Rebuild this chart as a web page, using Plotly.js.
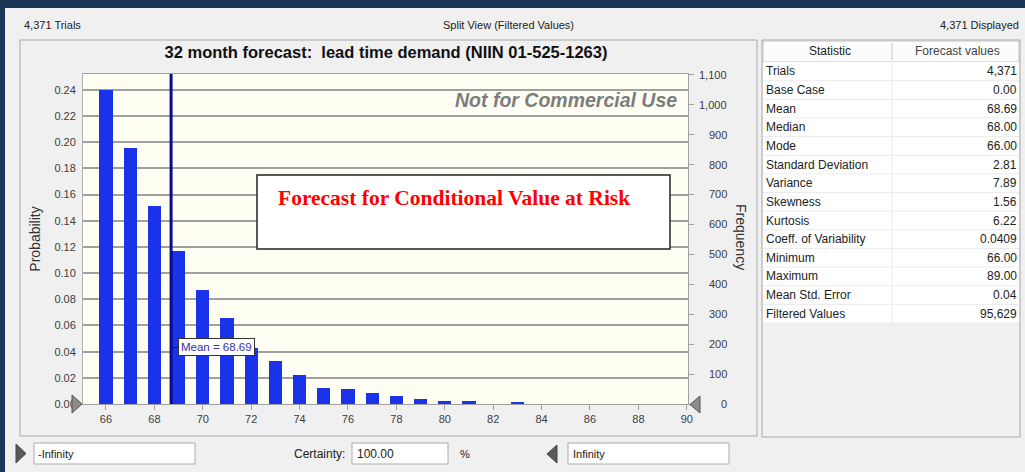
<!DOCTYPE html>
<html><head><meta charset="utf-8">
<script src="https://cdn.plot.ly/plotly-3.0.1.min.js"></script>
<style>html,body{margin:0;padding:0;background:#f0f0f0;overflow:hidden}#chart{width:1025px;height:472px}</style>
</head><body><div id="chart"></div>
<script>
// ---------- data ----------
const trials = 4371;
const demandBins = [66, 67, 68, 69, 70, 71, 72, 73, 74, 75, 76, 77, 78, 79, 80, 81, 82, 83];
const probability = [0.2400, 0.1957, 0.1514, 0.1172, 0.0872, 0.0655, 0.0428, 0.0329, 0.0222, 0.0120, 0.0112, 0.0087, 0.0064, 0.0036, 0.0021, 0.0021, 0.0000, 0.0010];
const meanValue = 68.69;
const meanLabel = 'Mean = 68.69';
const chartTitle = '32 month forecast:\u00a0 lead time demand (NIIN 01-525-1263)';
const frequencyTicks = [0, 100, 200, 300, 400, 500, 600, 700, 800, 900, 1000, 1100];
const tableHeaders = ['Statistic', 'Forecast values'];
const statNames = ['Trials', 'Base Case', 'Mean', 'Median', 'Mode', 'Standard Deviation', 'Variance', 'Skewness', 'Kurtosis', 'Coeff. of Variability', 'Minimum', 'Maximum', 'Mean Std. Error', 'Filtered Values'];
const statValues = ['4,371', '0.00', '68.69', '68.00', '66.00', '2.81', '7.89', '1.56', '6.22', '0.0409', '66.00', '89.00', '0.04', '95,629'];
const headerTexts = ['4,371 Trials', 'Split View (Filtered Values)', '4,371 Displayed'];
const lowerBound = '-Infinity', upperBound = 'Infinity', certainty = '100.00';

// ---------- layout helpers ----------
const W = 1025, H = 472;
const px = x => x / W, py = y => 1 - y / H;
const FONT = 'Liberation Sans, Arial, sans-serif';
const probabilityRange = [0, 0.2522];
const frequencyRange = probabilityRange.map(v => v * trials);
const demandRange = [65.05, 90.05];
const frequency = probability.map(p => p * trials);

const traces = [
  {type: 'bar', x: demandBins, y: probability, width: 0.54,
   marker: {color: '#1b32eb', line: {width: 0}}, hoverinfo: 'x+y'},
  {type: 'scatter', mode: 'markers', x: demandBins, y: frequency, yaxis: 'y2',
   marker: {opacity: 0}, hoverinfo: 'skip'}
];

const shapes = [];
const annotations = [];
function rect(x0, y0, x1, y1, fill, line, lw, layer) {
  shapes.push({type: 'rect', xref: 'paper', yref: 'paper', x0: px(x0), x1: px(x1), y0: py(y1), y1: py(y0),
    fillcolor: fill || 'rgba(0,0,0,0)', line: {color: line || 'rgba(0,0,0,0)', width: lw || 0}, layer: layer || 'below'});
}
function seg(x0, y0, x1, y1, color, w, layer) {
  shapes.push({type: 'line', xref: 'paper', yref: 'paper', x0: px(x0), x1: px(x1), y0: py(y0), y1: py(y1),
    line: {color: color, width: w || 1}, layer: layer || 'above'});
}
function tri(pts, fill, line) {
  const d = 'M ' + pts.map(p => px(p[0]) + ',' + py(p[1])).join(' L ') + ' Z';
  shapes.push({type: 'path', xref: 'paper', yref: 'paper', path: d, fillcolor: fill, line: {color: line, width: 1}, layer: 'above'});
}
function text(t, x, y, opts) {
  opts = opts || {};
  annotations.push(Object.assign({xref: 'paper', yref: 'paper', x: px(x), y: py(y), text: t, showarrow: false,
    xanchor: opts.xa || 'left', yanchor: 'middle',
    font: {family: opts.family || FONT, size: opts.size || 11, color: opts.color || '#222'}}, opts.extra || {}));
}

// window frame
rect(0, 0, 1025, 8, '#1d3658');
rect(0, 0, 5, 472, '#1d3658');
// top status texts
text(headerTexts[0], 22, 25);
text(headerTexts[1], 508, 25, {xa: 'center'});
text(headerTexts[2], 1021, 25, {xa: 'right'});
// chart panel frame
rect(20, 40, 757, 436, null, '#a8a8a8', 1);
// table frame and cells
rect(762, 40, 1020, 437, null, '#a8a8a8', 1);
rect(763, 41, 1019, 62, '#fcfcfc', '#c4c4c4', 1);
seg(892, 43, 892, 60, '#c8c8c8', 1, 'below');
const rowTop = 62, rowH = 18.65;
rect(763, rowTop, 1019, rowTop + statNames.length * rowH, '#ffffff');
seg(892, rowTop, 892, rowTop + statNames.length * rowH, '#ececec', 1, 'below');
text(tableHeaders[0], 830, 51, {xa: 'center', size: 12, color: '#222'});
text(tableHeaders[1], 957, 51, {xa: 'center', size: 12, color: '#444'});
statNames.forEach((n, i) => {
  const yc = rowTop + rowH * (i + 0.5);
  seg(763, rowTop + rowH * (i + 1), 1019, rowTop + rowH * (i + 1), '#ececec', 1, 'below');
  text(n, 764, yc, {size: 12, color: '#222'});
  text(statValues[i], 1019, yc, {xa: 'right', size: 12, color: '#222'});
});

// right-aligned frequency tick labels
frequencyTicks.forEach(v => {
  annotations.push({xref: 'paper', yref: 'y2', x: px(729), y: v, xanchor: 'right', yanchor: 'middle', showarrow: false,
    text: v.toLocaleString('en-US'), font: {family: FONT, size: 11, color: '#3c3c3c'}});
});

// plot decorations
annotations.push({xref: 'paper', yref: 'paper', x: px(679), y: py(100), xanchor: 'right', yanchor: 'middle', showarrow: false,
  text: '<b><i>Not for Commercial Use</i></b>', font: {family: FONT, size: 19.5, color: '#7d7d7d'}});
rect(257, 175, 670, 249, '#ffffff', '#222222', 1.5, 'above');
annotations.push({xref: 'paper', yref: 'paper', x: px(276), y: py(198), xanchor: 'left', yanchor: 'middle', showarrow: false,
  text: '<b>Forecast for Conditional Value at Risk</b>', font: {family: 'Liberation Serif, Times New Roman, serif', size: 21.5, color: '#ff0000'}});
shapes.push({type: 'line', xref: 'x', yref: 'y', x0: meanValue, x1: meanValue, y0: probabilityRange[0], y1: probabilityRange[1],
  line: {color: '#0b0b8c', width: 3}, layer: 'above'});
annotations.push({xref: 'x', yref: 'y', x: meanValue, y: 0.0432, text: meanLabel, showarrow: true, arrowhead: 0,
  arrowwidth: 1, arrowcolor: '#222', ax: 45, ay: 0, bgcolor: '#ffffff', bordercolor: '#333', borderwidth: 1, borderpad: 2,
  font: {family: FONT, size: 11.5, color: '#3b2ea6'}});
annotations.push({xref: 'paper', yref: 'paper', x: px(741), y: py(237), xanchor: 'center', yanchor: 'middle', showarrow: false,
  text: 'Frequency', textangle: 90, font: {family: FONT, size: 14, color: '#333'}});
// axis-end markers
tri([[72, 395], [82, 404], [72, 413]], '#8c8c8c', '#555');
tri([[700, 396], [690, 404.5], [700, 413]], '#8c8c8c', '#555');

// bottom controls
tri([[16, 444], [26, 453.5], [16, 463]], '#5a5a5a', '#444');
rect(34, 443, 195, 464, '#ffffff', '#acacac', 1, 'above');
text(lowerBound, 36, 454);
text('Certainty:', 292, 454, {size: 12});
rect(352, 443, 448, 464, '#ffffff', '#acacac', 1, 'above');
text(certainty, 355, 454, {size: 12});
text('%', 458, 454, {size: 11});
tri([[557, 445], [547, 454], [557, 463]], '#5a5a5a', '#444');
rect(568, 443, 729, 464, '#ffffff', '#acacac', 1, 'above');
text(upperBound, 571, 454);

const tickFont = {family: FONT, size: 11, color: '#3c3c3c'};
const layout = {
  width: W, height: H, margin: {l: 0, r: 0, t: 0, b: 0},
  paper_bgcolor: '#f0f0f0', plot_bgcolor: '#fefef2', showlegend: false, bargap: 0,
  title: {text: '<b>' + chartTitle + '</b>', x: px(386), xanchor: 'center', xref: 'paper', y: py(52), yref: 'container', yanchor: 'middle',
    font: {family: FONT, size: 16.5, color: '#111'}},
  xaxis: {domain: [px(83), px(688)], range: demandRange, tick0: 66, dtick: 2, ticks: 'outside', ticklen: 5,
    tickcolor: '#a0a0a0', showline: true, linecolor: '#a0a0a0', mirror: true, showgrid: false, zeroline: false,
    tickfont: tickFont, fixedrange: true},
  yaxis: {domain: [py(404), py(74)], range: probabilityRange, dtick: 0.02, tickformat: '.2f', ticks: 'outside', ticklen: 4,
    tickcolor: 'rgba(0,0,0,0)', showgrid: true, gridcolor: '#a0a0a0', gridwidth: 1.5, showline: true, linecolor: '#b0b0b0',
    zeroline: false, tickfont: tickFont, fixedrange: true,
    title: {text: 'Probability', font: {family: FONT, size: 14, color: '#333'}, standoff: 10}},
  yaxis2: {overlaying: 'y', side: 'right', anchor: 'x', range: frequencyRange, tickvals: frequencyTicks,
    showticklabels: false, ticks: 'outside', ticklen: 5, tickcolor: '#a0a0a0', showgrid: false, zeroline: false,
    showline: true, linecolor: '#a0a0a0', fixedrange: true},
  shapes: shapes, annotations: annotations
};
Plotly.newPlot('chart', traces, layout, {displayModeBar: false});
</script></body></html>
